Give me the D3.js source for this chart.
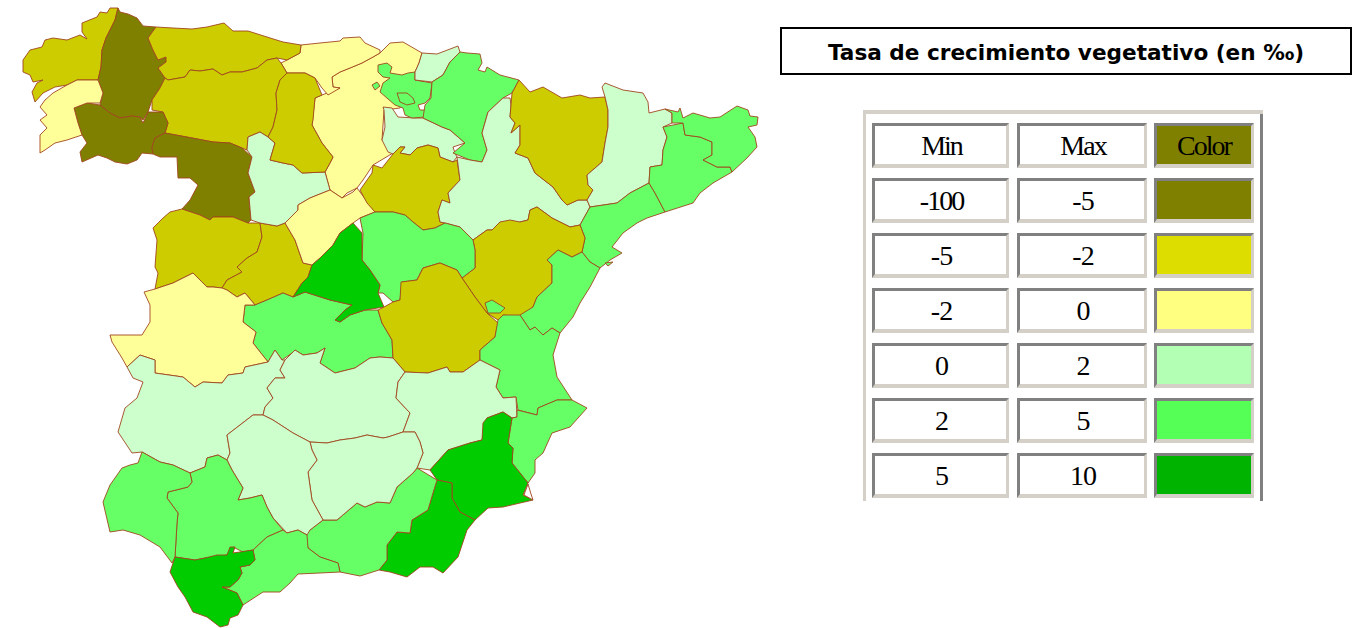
<!DOCTYPE html>
<html>
<head>
<meta charset="utf-8">
<script src="https://cdn.jsdelivr.net/npm/d3@7"></script>
<style>
  html, body { margin: 0; padding: 0; background: #fff; }
  svg { display: block; }
</style>
</head>
<body>
<svg class="tasaMap" width="1357" height="628"></svg>
<script>
// rate classes
const rateMin = ['-100', '-5', '-2', '0', '2', '5'];
const rateMax = ['-5', '-2', '0', '2', '5', '10'];
const mapColors = ['#808000', '#cccc00', '#ffff99', '#ccffcc', '#66ff66', '#00cc00', '#ffffff'];
const legendColors = ['#808000', '#dddd00', '#ffff80', '#b3ffb3', '#55ff55', '#00b300'];
const legendHeader = ['Min', 'Max', 'Color'];
const titleText = 'Tasa de crecimiento vegetativo (en ‰)';

const provinces = [
  ['Burgos', 2, [[322,95],[340,88],[333,87],[332,77],[340,72],[350,68],[362,63],[373,57],[380,53],[390,43],[403,42],[422,53],[419,63],[415,72],[410,90],[400,108],[384,110],[383,125],[382,140],[393,153],[373,165],[363,180],[357,188],[347,193],[342,198],[330,190],[325,172],[330,163],[333,157],[322,143],[312,125],[315,98]]],
  ['Cantabria', 2, [[301,45],[320,43],[340,41],[343,38],[360,37],[365,43],[380,50],[380,53],[373,57],[362,63],[350,68],[340,72],[332,77],[333,87],[340,88],[328,95],[322,88],[315,78],[305,73],[287,73],[281,63],[287,60],[300,53]]],
  ['Coruña', 1, [[23,60],[30,50],[42,47],[45,40],[53,38],[67,40],[80,35],[87,39],[82,32],[82,23],[97,17],[100,12],[107,13],[110,8],[118,8],[115,20],[110,30],[106,38],[102,50],[101,67],[98,80],[87,80],[77,80],[67,85],[55,87],[43,93],[35,102],[32,92],[37,83],[43,80],[33,82],[30,75],[23,72]]],
  ['Lugo', 0, [[118,8],[120,12],[128,14],[137,18],[143,26],[156,27],[148,38],[153,50],[158,60],[166,57],[166,62],[158,68],[165,78],[160,88],[152,100],[148,112],[143,120],[140,117],[132,116],[120,118],[110,113],[100,105],[103,93],[98,80],[101,67],[102,50],[106,38],[110,30],[115,20]]],
  ['Asturias', 1, [[156,27],[173,28],[192,29],[207,27],[224,23],[233,31],[248,31],[267,37],[283,42],[301,45],[300,53],[287,60],[277,58],[267,60],[257,68],[242,72],[230,72],[222,75],[213,69],[200,71],[190,70],[185,77],[168,80],[165,78],[158,68],[166,62],[166,57],[158,60],[153,50],[148,38]]],
  ['León', 1, [[168,80],[185,77],[190,70],[200,71],[213,69],[222,75],[230,72],[242,72],[257,68],[267,60],[277,58],[281,63],[287,73],[280,80],[276,93],[277,110],[273,127],[268,137],[260,132],[248,137],[247,150],[242,148],[230,143],[213,142],[192,138],[165,133],[168,123],[163,112],[152,110],[152,100],[160,88],[165,78]]],
  ['Ourense', 0, [[74,108],[87,103],[100,105],[110,113],[120,118],[132,116],[140,117],[143,123],[148,112],[163,112],[168,123],[165,133],[155,138],[152,147],[153,154],[142,153],[137,160],[127,164],[115,162],[107,158],[98,155],[82,162],[80,152],[87,143],[82,135],[78,123]]],
  ['Pontevedra', 2, [[40,153],[40,135],[47,128],[40,120],[47,115],[40,107],[45,100],[53,93],[67,85],[77,80],[98,80],[103,93],[100,103],[87,103],[74,108],[78,123],[82,135],[67,140],[55,143],[45,150]]],
  ['Zamora', 0, [[153,154],[152,147],[155,138],[165,133],[192,138],[213,142],[230,143],[242,148],[252,157],[248,173],[255,192],[249,197],[251,220],[248,223],[233,217],[213,217],[210,220],[200,215],[182,209],[190,200],[198,185],[190,178],[178,178],[177,157],[167,157],[160,157]]],
  ['Salamanca', 1, [[182,209],[200,215],[210,220],[213,217],[233,217],[248,223],[260,223],[262,237],[257,252],[247,258],[237,267],[242,272],[227,280],[222,288],[213,287],[207,287],[193,273],[173,283],[155,289],[158,273],[155,267],[157,240],[153,228],[163,218],[170,212]]],
  ['Ávila', 1, [[260,223],[277,226],[285,223],[295,240],[303,263],[312,265],[308,277],[302,283],[293,297],[283,293],[267,300],[255,305],[245,293],[237,297],[227,290],[222,288],[227,280],[242,272],[237,267],[247,258],[257,252],[262,237]]],
  ['Valladolid', 3, [[248,137],[260,132],[268,137],[275,143],[270,160],[283,163],[293,165],[302,173],[325,172],[330,190],[310,198],[298,205],[298,210],[285,223],[277,226],[260,223],[251,220],[249,197],[255,192],[248,173],[252,157],[247,150]]],
  ['Palencia', 1, [[287,73],[305,73],[315,78],[322,95],[315,98],[313,120],[312,125],[322,143],[333,157],[330,163],[325,172],[302,173],[293,165],[283,163],[270,160],[275,143],[268,137],[273,127],[277,110],[276,93],[280,80]]],
  ['Segovia', 2, [[285,223],[298,210],[298,205],[310,198],[330,190],[342,198],[353,192],[357,188],[375,212],[360,218],[353,223],[340,233],[333,245],[320,258],[312,265],[303,263],[295,240]]],
  ['La Rioja', 3, [[383,107],[392,108],[398,117],[415,118],[423,118],[442,127],[450,130],[465,143],[453,147],[455,153],[457,157],[453,162],[440,157],[438,148],[428,145],[417,148],[410,155],[400,153],[405,147],[400,147],[393,154],[388,152],[382,140],[385,127],[384,110]]],
  ['Vizcaya y Álava', 4, [[378,65],[387,63],[392,67],[390,73],[402,75],[408,73],[415,72],[415,80],[432,83],[430,98],[425,103],[418,105],[420,110],[425,110],[425,117],[412,118],[405,115],[403,108],[395,105],[380,92],[383,83],[390,78],[383,77],[378,72]]],
  ['Costa', 4, [[372,85],[377,82],[380,86],[375,90]]],
  ['Treviño', 4, [[397,93],[407,93],[413,98],[415,103],[407,105],[400,102]]],
  ['Guipúzcoa', 3, [[422,53],[437,54],[458,46],[460,52],[450,62],[443,75],[432,82],[415,80],[415,72],[419,63]]],
  ['Navarra', 4, [[460,52],[467,53],[480,54],[482,63],[478,70],[485,72],[487,67],[500,75],[519,80],[512,93],[503,98],[488,112],[482,133],[487,150],[482,162],[470,160],[453,153],[465,143],[450,130],[442,127],[423,118],[425,105],[431,98],[432,82],[443,75],[450,62]]],
  ['Soria', 1, [[393,154],[400,147],[405,147],[400,153],[410,155],[417,148],[428,145],[438,148],[440,157],[453,162],[457,160],[460,180],[448,193],[450,203],[442,200],[438,212],[440,222],[445,223],[435,228],[423,230],[413,222],[405,215],[393,212],[375,212],[367,203],[360,190],[372,173],[373,165],[382,168]]],
  ['Zaragoza', 3, [[510,98],[503,98],[488,112],[482,133],[487,150],[482,162],[470,160],[457,157],[460,180],[448,193],[450,203],[442,200],[438,212],[440,222],[445,223],[460,227],[473,240],[487,230],[492,230],[500,222],[510,227],[520,222],[528,220],[530,210],[537,207],[552,218],[570,227],[580,225],[590,207],[587,200],[578,200],[567,205],[562,200],[553,187],[535,173],[528,158],[515,153],[520,145],[520,125],[511,133],[515,123],[510,117],[511,105]]],
  ['Huesca', 1, [[519,80],[530,92],[543,87],[562,98],[580,95],[590,98],[605,97],[608,110],[608,127],[605,143],[602,162],[587,175],[588,185],[593,190],[587,200],[578,200],[567,205],[562,200],[553,187],[535,173],[528,158],[515,153],[520,145],[520,125],[511,133],[515,123],[510,117],[511,105],[512,93]]],
  ['Lleida', 3, [[602,87],[605,83],[623,90],[643,93],[648,102],[649,113],[665,109],[672,113],[672,123],[663,127],[667,137],[663,150],[662,165],[650,167],[649,183],[630,193],[617,203],[590,207],[587,200],[593,190],[588,185],[587,175],[602,162],[605,143],[608,127],[608,110],[605,97]]],
  ['Tarragona', 4, [[590,207],[617,203],[630,193],[649,183],[655,193],[665,212],[647,218],[637,223],[623,233],[612,247],[622,253],[610,260],[600,268],[590,262],[582,252],[585,238],[580,225]]],
  ['Delta', 4, [[605,263],[613,262],[608,266]]],
  ['Barcelona', 4, [[650,167],[662,165],[663,150],[667,137],[663,127],[683,123],[685,135],[700,137],[712,142],[712,155],[703,160],[717,167],[730,167],[732,172],[713,183],[700,193],[693,203],[665,212],[655,193],[649,183]]],
  ['Girona', 4, [[665,109],[678,112],[680,108],[683,118],[693,113],[710,118],[720,117],[737,106],[748,110],[750,116],[758,117],[757,125],[748,127],[755,137],[757,147],[747,158],[732,172],[730,167],[717,167],[703,160],[712,155],[712,142],[700,137],[685,135],[683,123],[672,123],[672,113]]],
  ['Teruel', 1, [[473,240],[487,230],[492,230],[500,222],[510,220],[520,222],[528,220],[530,210],[537,207],[552,218],[570,227],[580,225],[585,238],[582,252],[572,257],[558,250],[547,260],[552,265],[552,283],[537,297],[533,307],[520,317],[503,315],[498,320],[487,313],[475,297],[462,278],[475,268],[475,250]]],
  ['Castellón', 4, [[582,252],[590,262],[600,268],[590,287],[580,303],[573,317],[560,333],[552,328],[543,335],[535,327],[530,330],[520,315],[533,307],[537,297],[552,283],[552,265],[547,260],[558,250],[572,257]]],
  ['Guadalajara', 4, [[360,218],[375,212],[393,212],[405,215],[413,222],[423,230],[435,228],[445,223],[460,227],[473,240],[475,250],[475,268],[462,278],[457,270],[440,263],[423,268],[417,280],[402,282],[400,300],[393,302],[383,293],[378,293],[380,285],[370,270],[362,260],[363,233]]],
  ['Toledo', 4, [[245,305],[243,322],[256,332],[253,343],[268,362],[275,350],[282,360],[292,353],[295,350],[303,355],[317,353],[325,348],[320,363],[335,373],[355,368],[370,358],[380,357],[393,358],[392,340],[382,323],[378,310],[365,310],[350,315],[340,322],[335,320],[345,310],[352,305],[330,300],[305,292],[293,297],[283,293],[267,300],[255,305]]],
  ['Madrid', 5, [[353,223],[362,233],[362,260],[370,270],[380,285],[378,293],[384,307],[365,310],[350,315],[340,322],[335,320],[345,310],[352,305],[330,300],[305,292],[293,297],[302,283],[308,277],[312,265],[320,258],[333,245],[340,233]]],
  ['Cáceres', 2, [[144,292],[155,289],[173,283],[193,273],[207,287],[213,287],[222,288],[227,290],[237,297],[245,293],[255,305],[245,305],[243,322],[256,332],[253,343],[268,362],[245,367],[243,373],[228,375],[222,383],[203,382],[195,387],[183,377],[155,373],[155,360],[140,355],[127,367],[122,358],[112,342],[110,335],[142,335],[150,322],[150,305]]],
  ['Cuenca', 1, [[401,282],[417,280],[423,268],[440,263],[457,270],[462,278],[475,297],[487,313],[498,323],[495,337],[480,350],[480,360],[463,372],[450,372],[447,367],[428,373],[405,372],[393,358],[392,340],[382,323],[378,310],[384,307],[393,302],[400,300]]],
  ['Valencia', 4, [[498,320],[503,315],[520,315],[530,330],[535,327],[543,335],[552,328],[560,333],[553,355],[557,377],[572,400],[557,400],[538,408],[537,415],[518,410],[516,397],[503,398],[496,387],[500,370],[480,360],[480,350],[495,337]]],
  ['Ademuz', 4, [[485,303],[492,300],[505,308],[500,313],[488,313]]],
  ['Badajoz', 3, [[127,367],[133,378],[143,382],[137,398],[125,408],[118,432],[132,453],[142,452],[160,462],[173,465],[190,473],[205,467],[207,458],[218,455],[227,460],[230,453],[227,435],[240,425],[253,415],[263,415],[265,407],[273,398],[267,388],[275,378],[285,378],[280,370],[285,360],[282,360],[275,350],[268,362],[245,367],[243,373],[228,375],[222,383],[203,382],[195,387],[183,377],[155,373],[155,360],[140,355]]],
  ['Ciudad Real', 3, [[285,360],[295,350],[303,355],[317,353],[325,348],[320,363],[335,373],[355,368],[370,358],[380,357],[393,358],[405,372],[398,382],[396,398],[410,413],[403,432],[388,437],[383,438],[367,435],[355,438],[340,440],[327,443],[310,442],[293,433],[273,420],[263,415],[265,407],[273,398],[267,388],[275,378],[285,378],[280,370]]],
  ['Albacete', 3, [[405,372],[428,373],[447,367],[450,372],[463,372],[480,360],[500,370],[496,387],[503,398],[516,397],[517,417],[512,418],[503,412],[487,418],[482,440],[470,443],[448,450],[430,470],[417,468],[423,453],[420,442],[415,432],[403,432],[410,413],[396,398],[398,382]]],
  ['Alicante', 4, [[517,410],[537,415],[538,408],[557,400],[572,400],[587,408],[570,427],[552,433],[543,453],[535,460],[535,473],[528,483],[512,463],[513,448],[508,443],[512,418],[517,417]]],
  ['Murcia', 5, [[430,470],[448,450],[470,443],[482,440],[483,423],[487,418],[503,412],[512,418],[508,443],[513,448],[512,463],[528,483],[523,495],[533,500],[503,507],[488,508],[475,520],[460,512],[452,498],[452,483],[437,480]]],
  ['Mar Menor', 6, [[528,484],[531,494],[533,500],[524,495]]],
  ['Almería', 5, [[437,480],[452,483],[452,498],[460,512],[475,520],[467,530],[458,557],[443,573],[433,567],[420,567],[407,577],[390,572],[379,570],[387,560],[387,545],[397,532],[410,533],[412,520],[428,510],[433,493]]],
  ['Granada', 4, [[417,468],[437,480],[433,493],[428,510],[412,520],[410,533],[397,532],[387,545],[387,560],[379,570],[360,576],[340,572],[338,563],[320,557],[308,548],[305,535],[310,530],[323,520],[337,520],[357,503],[365,507],[377,502],[390,503],[397,487],[413,473]]],
  ['Jaén', 3, [[310,442],[327,443],[340,440],[355,438],[367,435],[383,438],[388,437],[403,432],[415,432],[420,442],[423,453],[417,468],[413,473],[397,487],[390,503],[377,502],[365,507],[357,503],[337,520],[323,520],[312,500],[308,472],[317,460],[312,450]]],
  ['Córdoba', 3, [[263,415],[273,420],[293,433],[310,442],[312,450],[317,460],[308,472],[312,500],[323,520],[310,530],[307,535],[298,530],[287,533],[273,518],[267,507],[262,495],[250,498],[238,500],[243,488],[232,470],[227,460],[230,453],[227,435],[240,425],[253,415]]],
  ['Sevilla', 4, [[190,473],[205,467],[207,458],[218,455],[227,460],[232,470],[243,488],[238,500],[250,498],[262,495],[267,507],[273,518],[283,530],[267,537],[253,550],[243,552],[233,547],[227,555],[205,558],[195,560],[175,557],[177,523],[178,513],[167,498],[168,492],[188,487],[192,482]]],
  ['Huelva', 4, [[142,452],[160,462],[173,465],[190,473],[192,482],[188,487],[168,492],[167,498],[178,513],[177,523],[175,557],[172,563],[160,547],[140,535],[123,530],[110,532],[103,502],[110,485],[122,468],[130,465],[138,463]]],
  ['Málaga', 4, [[253,550],[267,537],[283,530],[287,533],[298,530],[307,535],[308,548],[320,557],[338,563],[340,572],[320,573],[298,574],[290,583],[280,592],[263,592],[243,605],[237,593],[222,587],[230,587],[238,580],[242,573],[240,567],[250,565],[255,560]]],
  ['Cádiz', 5, [[175,557],[195,560],[205,558],[217,555],[227,555],[230,547],[235,547],[233,553],[253,550],[255,560],[250,565],[240,567],[242,573],[238,580],[230,587],[222,587],[237,593],[243,605],[238,615],[230,618],[228,625],[220,627],[207,617],[193,612],[185,597],[178,587],[170,572]]]
];

const svg = d3.select('.tasaMap');

// map
const path = d3.geoPath(d3.geoIdentity());
const colorScale = d3.scaleOrdinal().domain(d3.range(mapColors.length)).range(mapColors);

svg.append('g')
  .attr('class', 'provinces')
  .selectAll('path')
  .data(provinces)
  .enter().append('path')
    .attr('d', d => path({ type: 'Polygon', coordinates: [d[2].concat([d[2][0]])] }))
    .attr('fill', d => colorScale(d[1]))
    .attr('stroke', '#a0461e')
    .attr('stroke-width', 0.9)
    .attr('stroke-linejoin', 'round');

// title box
svg.append('rect')
  .attr('x', 781).attr('y', 28)
  .attr('width', 570).attr('height', 46)
  .attr('fill', '#fff')
  .attr('stroke', '#000')
  .attr('stroke-width', 2);

svg.append('text')
  .attr('x', 1066).attr('y', 60)
  .attr('text-anchor', 'middle')
  .attr('font-family', '"DejaVu Sans", sans-serif')
  .attr('font-weight', 'bold')
  .attr('font-size', 21.6)
  .text(titleText);

// legend table
const light = '#d4d0c8';
const dark = '#808080';
const table = svg.append('g').attr('class', 'legend');

table.append('rect').attr('x', 863).attr('y', 110).attr('width', 400).attr('height', 4).attr('fill', light);
table.append('rect').attr('x', 863).attr('y', 110).attr('width', 3).attr('height', 391).attr('fill', light);
table.append('rect').attr('x', 1260).attr('y', 114).attr('width', 3).attr('height', 387).attr('fill', dark);

const columns = [{ x: 872, w: 137 }, { x: 1017, w: 130 }, { x: 1154, w: 100 }];
const rowY = d3.scaleLinear().domain([0, 1]).range([123, 178]);
const rows = [legendHeader].concat(rateMin.map((d, i) => [d, rateMax[i], '']));

rows.forEach((row, r) => {
  const y = rowY(r);
  const h = 45;
  row.forEach((label, c) => {
    const col = columns[c];
    const cell = table.append('g');
    // bevel: light bottom and right over dark top and left
    cell.append('rect').attr('x', col.x).attr('y', y).attr('width', col.w).attr('height', h).attr('fill', dark);
    cell.append('path')
      .attr('d', d3.line()([[col.x + col.w, y], [col.x + col.w, y + h], [col.x, y + h], [col.x + 3, y + h - 4], [col.x + col.w - 3, y + h - 4], [col.x + col.w - 3, y + 3]]) + 'Z')
      .attr('fill', light);
    const fill = c < 2 ? '#fff' : (r === 0 ? legendColors[0] : legendColors[r - 1]);
    cell.append('rect')
      .attr('x', col.x + 3).attr('y', y + 3)
      .attr('width', col.w - 6).attr('height', h - 7)
      .attr('fill', fill);
    if (label) {
      cell.append('text')
        .attr('x', col.x + col.w / 2 + (c === 2 ? 0 : 1))
        .attr('y', y + 32)
        .attr('text-anchor', 'middle')
        .attr('font-family', '"Liberation Serif", serif')
        .attr('font-size', 28)
        .attr('letter-spacing', r === 0 || label.length > 2 ? -2 : -1)
        .text(label);
    }
  });
});
</script>
</body>
</html>
